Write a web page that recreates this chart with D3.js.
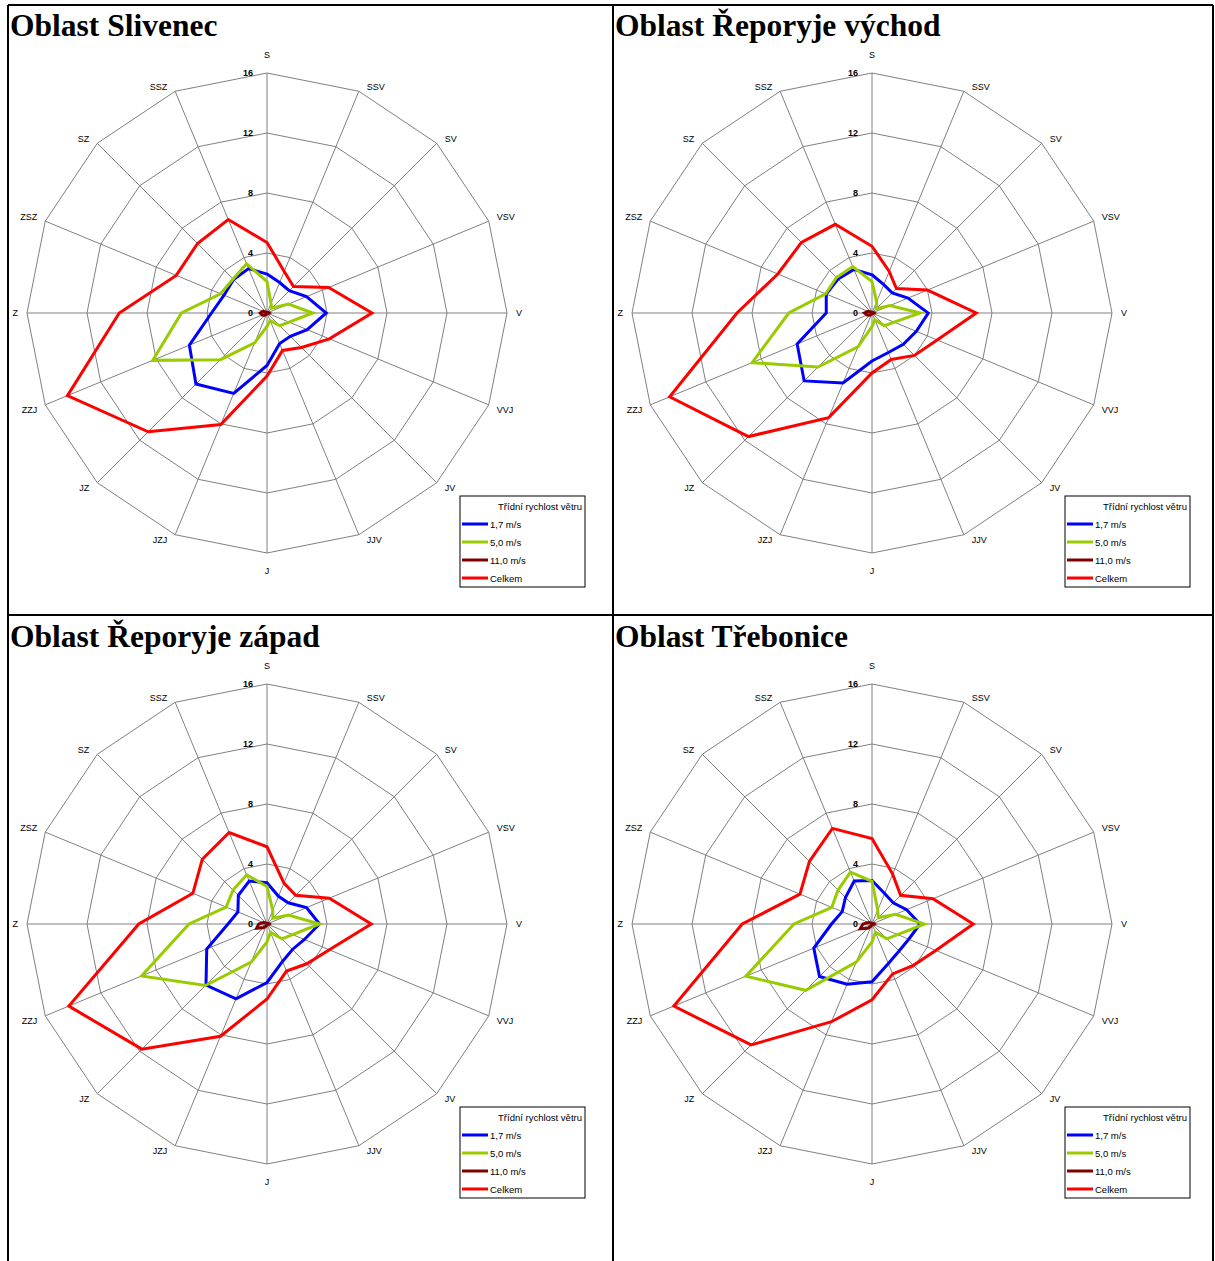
<!DOCTYPE html>
<html>
<head>
<meta charset="utf-8">
<script src="https://cdn.jsdelivr.net/npm/d3@7"></script>
<style>
  body { margin: 0; background: #fff; }
  .title { font-family: "Liberation Serif", "Times New Roman", serif; font-weight: bold; font-size: 31.5px; }
  .dir { font-family: "Liberation Sans", Arial, sans-serif; font-size: 9px; }
  .tick { font-family: "Liberation Sans", Arial, sans-serif; font-size: 9px; font-weight: bold; }
  .leg { font-family: "Liberation Sans", Arial, sans-serif; font-size: 9.5px; }
</style>
</head>
<body>
<div id="chart"></div>
<script>
var directions = ["S", "SSV", "SV", "VSV", "V", "VVJ", "JV", "JJV", "J", "JZJ", "JZ", "ZZJ", "Z", "ZSZ", "SZ", "SSZ"];
var ticks = [0, 4, 8, 12, 16];
var seriesNames = ["1,7 m/s", "5,0 m/s", "11,0 m/s", "Celkem"];
var seriesColors = ["#0000ff", "#99cc00", "#800000", "#ff0000"];
var legendTitle = "Třídní rychlost větru";
var titles = ["Oblast Slivenec", "Oblast Řeporyje východ", "Oblast Řeporyje západ", "Oblast Třebonice"];

// values in %, order as directions
var slivenec_17  = [2.6, 2.2, 2.1, 2.85, 3.95, 2.9, 2.2, 2.2, 3.5, 5.8, 6.7, 5.6, 3.7, 3.1, 3.15, 3.2];
var slivenec_50  = [2.1, 0.7, 0.45, 1.55, 3.05, 1.6, 1.2, 0.55, 0.9, 2.15, 4.4, 8.25, 5.7, 3.35, 3.2, 3.55];
var slivenec_110 = [0.05, 0.05, 0.05, 0.1, 0.15, 0.1, 0.05, 0.05, 0.05, 0.1, 0.2, 0.35, 0.45, 0.3, 0.1, 0.05];
var slivenec_all = [4.7, 3.0, 2.5, 4.45, 7.0, 4.5, 3.25, 2.7, 4.2, 8.05, 11.2, 14.4, 9.85, 6.55, 6.55, 6.75];

var vychod_17  = [2.55, 2.05, 1.9, 2.6, 3.75, 3.2, 2.95, 2.85, 3.2, 5.05, 6.4, 5.4, 3.05, 3.3, 3.2, 3.15];
var vychod_50  = [2.1, 0.8, 0.4, 1.3, 3.2, 1.6, 1.2, 0.5, 0.9, 2.45, 5.1, 8.65, 5.55, 3.35, 3.35, 3.35];
var vychod_110 = [0.05, 0.05, 0.05, 0.1, 0.15, 0.1, 0.05, 0.05, 0.05, 0.1, 0.2, 0.35, 0.5, 0.3, 0.1, 0.05];
var vychod_all = [4.45, 3.0, 2.3, 4.0, 6.95, 4.7, 4.0, 3.35, 4.0, 7.55, 11.65, 14.6, 9.0, 6.8, 6.65, 6.4];

var zapad_17  = [2.75, 2.0, 2.0, 2.85, 3.5, 2.7, 2.4, 2.7, 3.9, 5.4, 5.75, 4.35, 2.6, 2.1, 2.7, 3.1];
var zapad_50  = [2.5, 1.0, 0.55, 1.55, 3.5, 1.85, 1.4, 0.6, 1.2, 2.75, 5.8, 9.05, 5.2, 2.95, 3.2, 3.55];
var zapad_110 = [0.05, 0.05, 0.05, 0.1, 0.15, 0.1, 0.05, 0.05, 0.05, 0.15, 0.35, 0.75, 0.55, 0.25, 0.1, 0.05];
var zapad_all = [5.15, 2.95, 2.7, 4.5, 6.95, 4.5, 3.75, 3.4, 5.0, 8.1, 11.8, 14.3, 8.55, 5.35, 6.1, 6.6];

var trebonice_17  = [2.9, 2.2, 2.0, 2.5, 3.2, 2.65, 2.55, 2.85, 3.85, 4.35, 4.95, 4.2, 2.7, 2.15, 2.5, 3.1];
var trebonice_50  = [2.85, 1.0, 0.6, 1.7, 3.5, 1.85, 1.4, 0.6, 1.2, 2.75, 6.25, 9.1, 5.2, 2.9, 3.2, 3.75];
var trebonice_110 = [0.05, 0.05, 0.05, 0.1, 0.15, 0.1, 0.05, 0.05, 0.05, 0.15, 0.4, 0.85, 0.6, 0.25, 0.1, 0.05];
var trebonice_all = [5.7, 3.6, 2.7, 4.4, 6.75, 4.6, 3.9, 3.6, 5.05, 7.05, 11.4, 14.3, 8.65, 5.2, 5.9, 6.9];

var panelData = [
  [slivenec_17, slivenec_50, slivenec_110, slivenec_all],
  [vychod_17, vychod_50, vychod_110, vychod_all],
  [zapad_17, zapad_50, zapad_110, zapad_all],
  [trebonice_17, trebonice_50, trebonice_110, trebonice_all]
];

var width = 1215, height = 1261;
var svg = d3.select("#chart").append("svg")
  .attr("width", width).attr("height", height);
svg.append("rect").attr("width", width).attr("height", height).attr("fill", "#fff");

// frame
var frame = svg.append("g").attr("stroke", "#000").attr("stroke-width", 2);
frame.append("line").attr("x1", 8).attr("x2", 1213).attr("y1", 5).attr("y2", 5);
frame.append("line").attr("x1", 8).attr("x2", 1213).attr("y1", 615).attr("y2", 615);
frame.append("line").attr("x1", 8).attr("x2", 8).attr("y1", 5).attr("y2", height);
frame.append("line").attr("x1", 613).attr("x2", 613).attr("y1", 5).attr("y2", height);
frame.append("line").attr("x1", 1213).attr("x2", 1213).attr("y1", 5).attr("y2", height);

var r = d3.scaleLinear().domain([0, 16]).range([0, 240]);
var angle = d3.scaleLinear().domain([0, directions.length]).range([0, 2 * Math.PI]);

var radial = d3.lineRadial()
  .angle(function(d, i) { return angle(i); })
  .radius(function(d) { return r(d); })
  .curve(d3.curveLinearClosed);

var centers = [[267, 313], [872, 313], [267, 924], [872, 924]];
var titlePos = [[10, 36], [615, 36], [10, 647], [615, 647]];

centers.forEach(function(c, p) {
  svg.append("text").attr("class", "title")
    .attr("x", titlePos[p][0]).attr("y", titlePos[p][1])
    .text(titles[p]);

  var g = svg.append("g").attr("transform", "translate(" + c[0] + "," + c[1] + ")");

  // rings
  g.selectAll("path.ring")
    .data(ticks.slice(1))
    .enter().append("path")
    .attr("class", "ring")
    .attr("d", function(t) { return radial(directions.map(function() { return t; })); })
    .attr("fill", "none").attr("stroke", "#808080").attr("stroke-width", 1);

  // spokes
  g.selectAll("line.spoke")
    .data(directions)
    .enter().append("line")
    .attr("class", "spoke")
    .attr("x1", 0).attr("y1", 0)
    .attr("x2", function(d, i) { return r(16) * Math.sin(angle(i)); })
    .attr("y2", function(d, i) { return -r(16) * Math.cos(angle(i)); })
    .attr("stroke", "#808080").attr("stroke-width", 1);

  // direction labels, placed beside the outer vertex
  g.selectAll("text.dir")
    .data(directions)
    .enter().append("text")
    .attr("class", "dir")
    .attr("text-anchor", "middle")
    .attr("dominant-baseline", "central")
    .text(function(d) { return d; })
    .each(function(d, i) {
      var s = Math.sin(angle(i)), co = Math.cos(angle(i));
      var half = this.getComputedTextLength() / 2;
      var x = r(16) * s, y = -r(16) * co;
      if (Math.abs(s) < 0.01) { y += co > 0 ? -18 : 18; }
      else if (Math.abs(co) < 0.01) { x += s > 0 ? half + 9 : -half - 9; }
      else {
        x += s > 0 ? half + 8 : -half - 8;
        y += co > 0 ? -4 : 5;
      }
      d3.select(this).attr("x", x).attr("y", y);
    });

  // tick labels
  g.selectAll("text.tick")
    .data(ticks)
    .enter().append("text")
    .attr("class", "tick")
    .attr("x", -14)
    .attr("y", function(t) { return -r(t); })
    .attr("text-anchor", "end")
    .attr("dominant-baseline", "central")
    .text(function(t) { return t; });

  // series
  g.selectAll("path.series")
    .data(panelData[p])
    .enter().append("path")
    .attr("class", "series")
    .attr("d", function(d) { return radial(d); })
    .attr("fill", "none")
    .attr("stroke", function(d, i) { return seriesColors[i]; })
    .attr("stroke-width", 3)
    .attr("stroke-linejoin", "miter");

  // legend
  var leg = g.append("g").attr("transform", "translate(193,183)");
  leg.append("rect").attr("width", 125).attr("height", 91)
    .attr("fill", "#fff").attr("stroke", "#000").attr("stroke-width", 1);
  leg.append("text").attr("class", "leg")
    .attr("x", 122).attr("y", 10).attr("text-anchor", "end")
    .attr("dominant-baseline", "central")
    .text(legendTitle);
  var items = leg.selectAll("g.item")
    .data(seriesNames)
    .enter().append("g")
    .attr("class", "item")
    .attr("transform", function(d, i) { return "translate(0," + (28 + i * 18) + ")"; });
  items.append("line")
    .attr("x1", 2).attr("x2", 28).attr("y1", 0).attr("y2", 0)
    .attr("stroke", function(d, i) { return seriesColors[i]; })
    .attr("stroke-width", 3);
  items.append("text").attr("class", "leg")
    .attr("x", 30).attr("y", 0)
    .attr("dominant-baseline", "central")
    .text(function(d) { return d; });
});
</script>
</body>
</html>
